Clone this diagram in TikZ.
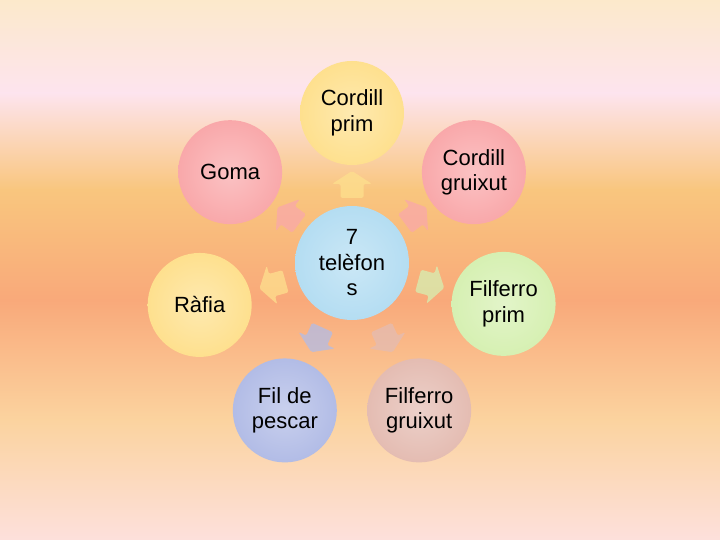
\documentclass[tikz,border=0pt]{standalone}
\usepackage{fontspec}
\setmainfont{Liberation Sans}
\usetikzlibrary{calc}

% Background and bubble colours.
\definecolor{bgA}{RGB}{252,233,203}
\definecolor{bgB}{RGB}{253,228,238}
\definecolor{bgC}{RGB}{249,198,126}
\definecolor{bgD}{RGB}{249,169,122}
\definecolor{bgE}{RGB}{251,211,159}
\definecolor{bgF}{RGB}{253,224,220}
\definecolor{cYellow}{RGB}{254,224,142}
\definecolor{cPink}{RGB}{249,168,170}
\definecolor{cGreen}{RGB}{214,240,178}
\definecolor{cRose}{RGB}{228,188,178}
\definecolor{cBlue}{RGB}{178,188,230}
\definecolor{cSky}{RGB}{180,221,242}

\tikzset{
    bubble/.style = {circle, minimum size = 104pt, inner sep = 0pt,
        align = center, font = \fontsize{22}{25.5}\selectfont,
        inner color = #1!70!white, outer color = #1},
    hubbubble/.style = {bubble = #1, minimum size = 114pt},
    blockarrow/.style = {fill = #1, fill opacity = 0.75, rounded corners = 1.5pt}
}

\begin{document}
\begin{tikzpicture}[x = 1pt, y = 1pt]

        % Canvas and the banded background.
        \useasboundingbox (0, 0) rectangle (720, 540);
        \shade[top color = bgA, bottom color = bgB] (0, 447) rectangle (720, 540);
        \shade[top color = bgB, bottom color = bgC] (0, 350) rectangle (720, 447);
        \shade[top color = bgC, bottom color = bgD] (0, 240) rectangle (720, 350);
        \shade[top color = bgD, bottom color = bgE] (0, 120) rectangle (720, 240);
        \shade[top color = bgE, bottom color = bgF] (0, 0) rectangle (720, 120);

        % The hub in the middle.
        \node[hubbubble = cSky] (hub) at (352, 277) {7\\telèfon\\s};

        % Outer bubbles and the block arrows pointing at them.
        \foreach \name/\ang/\dist/\col/\txt in {%
            cprim/90/150/cYellow/{Cordill\\prim},
            cgrui/36.7/152/cPink/{Cordill\\gruixut},
            fprim/-15.1/157/cGreen/{Filferro\\prim},
            fgrui/-65.5/162/cRose/{Filferro\\gruixut},
            pesca/-114.5/162/cBlue/{Fil de\\pescar},
            rafia/-164.6/158/cYellow/{Ràfia},
            goma/143.3/152/cPink/{Goma}}{
            \node[bubble = \col] (\name) at ($(hub) + (\ang:\dist)$) {\txt};
            \begin{scope}[shift = {($(hub) + (\ang:{(\dist + 7)/2})$)}, rotate = \ang]
                \fill[blockarrow = \col] (-13.5, -11.5) -- (0.5, -11.5)
                    -- (0.5, -20) -- (13.5, 0) -- (0.5, 20) -- (0.5, 11.5)
                    -- (-13.5, 11.5) -- cycle;
            \end{scope}
        }
    \end{tikzpicture}
\end{document}
